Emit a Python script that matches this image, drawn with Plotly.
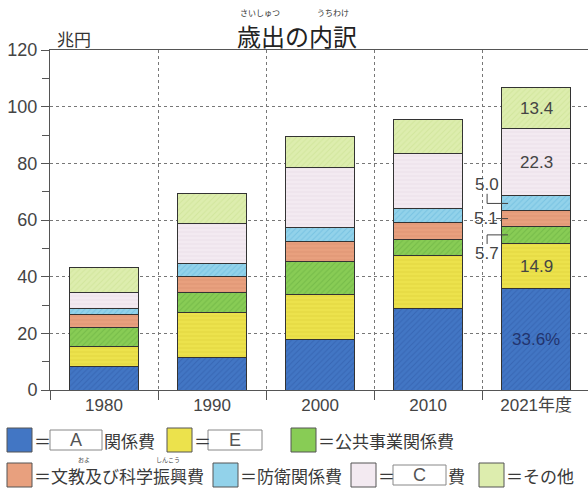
import plotly.graph_objects as go

# ---- data (trillion yen) ----
categories = ["1980", "1990", "2000", "2010", "2021年度"]
social_A = [8.3, 11.5, 17.8, 28.6, 35.8]
blank_E = [6.9, 15.9, 15.9, 18.8, 15.9]
public_works = [6.9, 7.1, 11.7, 5.8, 6.1]
education = [4.5, 5.5, 7.0, 6.0, 5.4]
defense = [2.2, 4.5, 4.8, 4.7, 5.3]
blank_C = [5.7, 14.1, 21.2, 19.6, 23.8]
others = [8.9, 10.8, 11.0, 12.0, 14.3]
labels_2021 = ["33.6%", "14.9", "5.7", "5.1", "5.0", "22.3", "13.4"]
y_ticks = [0, 20, 40, 60, 80, 100, 120]

series = [social_A, blank_E, public_works, education, defense, blank_C, others]
styles = [
    ("#4276c4", "#2b58a4", "/"),
    ("#ece24c", "#d6cb32", "-"),
    ("#88cc55", "#62aa3c", "/"),
    ("#e8a07e", "#d3896a", "-"),
    ("#92d2ea", "#5eb2d8", "/"),
    ("#f3eaf1", "#e2d6e0", "-"),
    ("#ddedae", "#c6dd8c", "/"),
]

NUM = "'Liberation Sans Narrow', 'Liberation Sans', 'Noto Sans CJK JP', sans-serif"
JP = "'Noto Sans CJK JP', sans-serif"
TXT = "#3a3a3a"

fig = go.Figure()
for vals, (c, fg, sh) in zip(series, styles):
    fig.add_trace(go.Bar(
        x=categories, y=vals, width=0.64,
        marker=dict(color=c, line=dict(color="#333333", width=1),
                    pattern=dict(shape=sh, fgcolor=fg, size=4, solidity=0.25)),
        showlegend=False, hoverinfo="skip"))

W, H = 588, 490
ML, MR, MT, MB = 50, 0, 50, 100
fig.update_layout(
    width=W, height=H, margin=dict(l=ML, r=MR, t=MT, b=MB),
    barmode="stack", plot_bgcolor="white", paper_bgcolor="white",
    font=dict(family=NUM, color=TXT),
)
fig.update_xaxes(
    type="category", range=[-0.5, 4.48], tickson="boundaries",
    ticks="outside", ticklen=9, tickcolor="#555", tickwidth=1,
    showline=True, linecolor="#555", linewidth=1, mirror=True,
    showgrid=True, gridcolor="#777", griddash="dot", gridwidth=1,
    tickfont=dict(family=NUM, size=17, color="#444"),
)
fig.update_yaxes(
    range=[0, 120], tickvals=y_ticks, ticks="outside", ticklen=8,
    tickcolor="#555", tickwidth=1,
    minor=dict(dtick=10, ticks="outside", ticklen=7, tickcolor="#555", showgrid=False),
    showline=True, linecolor="#555", linewidth=1, zeroline=False,
    showgrid=True, gridcolor="#777", griddash="dot", gridwidth=1,
    tickfont=dict(family=NUM, size=18, color="#444"),
)

# ---- labels on 2021 bar ----
last = len(categories) - 1
cum = 0
centers = []
for vals in series:
    centers.append(cum + vals[last] / 2)
    cum += vals[last]

for i in (0, 1, 5, 6):
    fig.add_annotation(x=last, y=centers[i], text=labels_2021[i], showarrow=False,
                       font=dict(family=NUM, size=17,
                                 color="#22346e" if i == 0 else "#444"))

tx = last - 0.454
bx = last - 0.26
lc = dict(color="#444", width=1)
# 5.0 (defense)
fig.add_annotation(x=tx, y=centers[4] + 6.6, text=labels_2021[4], showarrow=False,
                   font=dict(family=NUM, size=17, color="#444"))
fig.add_shape(type="line", x0=tx, x1=tx, y0=centers[4] + 3.4, y1=centers[4], line=lc)
fig.add_shape(type="line", x0=tx, x1=bx, y0=centers[4], y1=centers[4], line=lc)
# 5.1 (education)
fig.add_annotation(x=tx - 0.01, y=centers[3], text=labels_2021[3], showarrow=False,
                   font=dict(family=NUM, size=17, color="#444"))
fig.add_shape(type="line", x0=last - 0.37, x1=bx, y0=centers[3], y1=centers[3], line=lc)
# 5.7 (public works)
fig.add_annotation(x=tx, y=centers[2] - 6.4, text=labels_2021[2], showarrow=False,
                   font=dict(family=NUM, size=17, color="#444"))
fig.add_shape(type="line", x0=tx, x1=tx, y0=centers[2] - 3.2, y1=centers[2], line=lc)
fig.add_shape(type="line", x0=tx, x1=bx, y0=centers[2], y1=centers[2], line=lc)

# ---- pixel helpers for layout items ----
PW, PH = W - ML - MR, H - MT - MB
def px(x):
    return (x - ML) / PW
def py(y):
    return (H - MB - y) / PH

def text(x, y, s, size=17, anchor="left", color=TXT, family=JP):
    fig.add_annotation(xref="paper", yref="paper", x=px(x), y=py(y), text=s,
                       showarrow=False, xanchor=anchor, yanchor="middle",
                       borderpad=0,
                       font=dict(family=family, size=size, color=color))

def rect(x0, x1, y0, y1, fill, line="#555"):
    fig.add_shape(type="rect", xref="paper", yref="paper",
                  x0=px(x0), x1=px(x1), y0=py(y0), y1=py(y1),
                  fillcolor=fill, line=dict(color=line, width=1))

# title
text(297, 36, "歳出の内訳", size=24, anchor="center", color="#222")
text(260, 13, "さいしゅつ", size=8, anchor="center", color="#333")
text(333, 13, "うちわけ", size=8, anchor="center", color="#333")
text(56, 39, "兆円", size=17, color="#333")

# legend row 1
r1, r2 = 440, 475
rect(7, 32, r1 - 12, r1 + 12, styles[0][0])
text(33, r1, "＝")
rect(50, 102, r1 - 10, r1 + 10, "white", "#888")
text(76, r1, "A", size=18, anchor="center", color="#555", family=NUM)
text(103, r1, "関係費")
rect(167, 192, r1 - 12, r1 + 12, styles[1][0])
text(193, r1, "＝")
rect(208, 262, r1 - 10, r1 + 10, "white", "#888")
text(235, r1, "E", size=18, anchor="center", color="#555", family=NUM)
rect(291, 316, r1 - 12, r1 + 12, styles[2][0])
text(317, r1, "＝公共事業関係費")

# legend row 2
rect(7, 32, r2 - 12, r2 + 12, styles[3][0])
text(33, r2, "＝文教及び科学振興費")
text(84, r2 - 16, "およ", size=6, anchor="center", color="#444")
text(168, r2 - 16, "しんこう", size=6, anchor="center", color="#444")
rect(213, 238, r2 - 12, r2 + 12, styles[4][0])
text(239, r2, "＝防衛関係費")
rect(351, 376, r2 - 12, r2 + 12, styles[5][0])
text(377, r2, "＝")
rect(393, 446, r2 - 10, r2 + 10, "white", "#888")
text(419, r2, "C", size=18, anchor="center", color="#555", family=NUM)
text(447, r2, "費")
rect(479, 504, r2 - 12, r2 + 12, styles[6][0])
text(505, r2, "＝その他")

fig.write_html("out.html", config={"displayModeBar": False},
               post_script="document.body.style.margin='0';document.body.style.overflow='hidden';")
